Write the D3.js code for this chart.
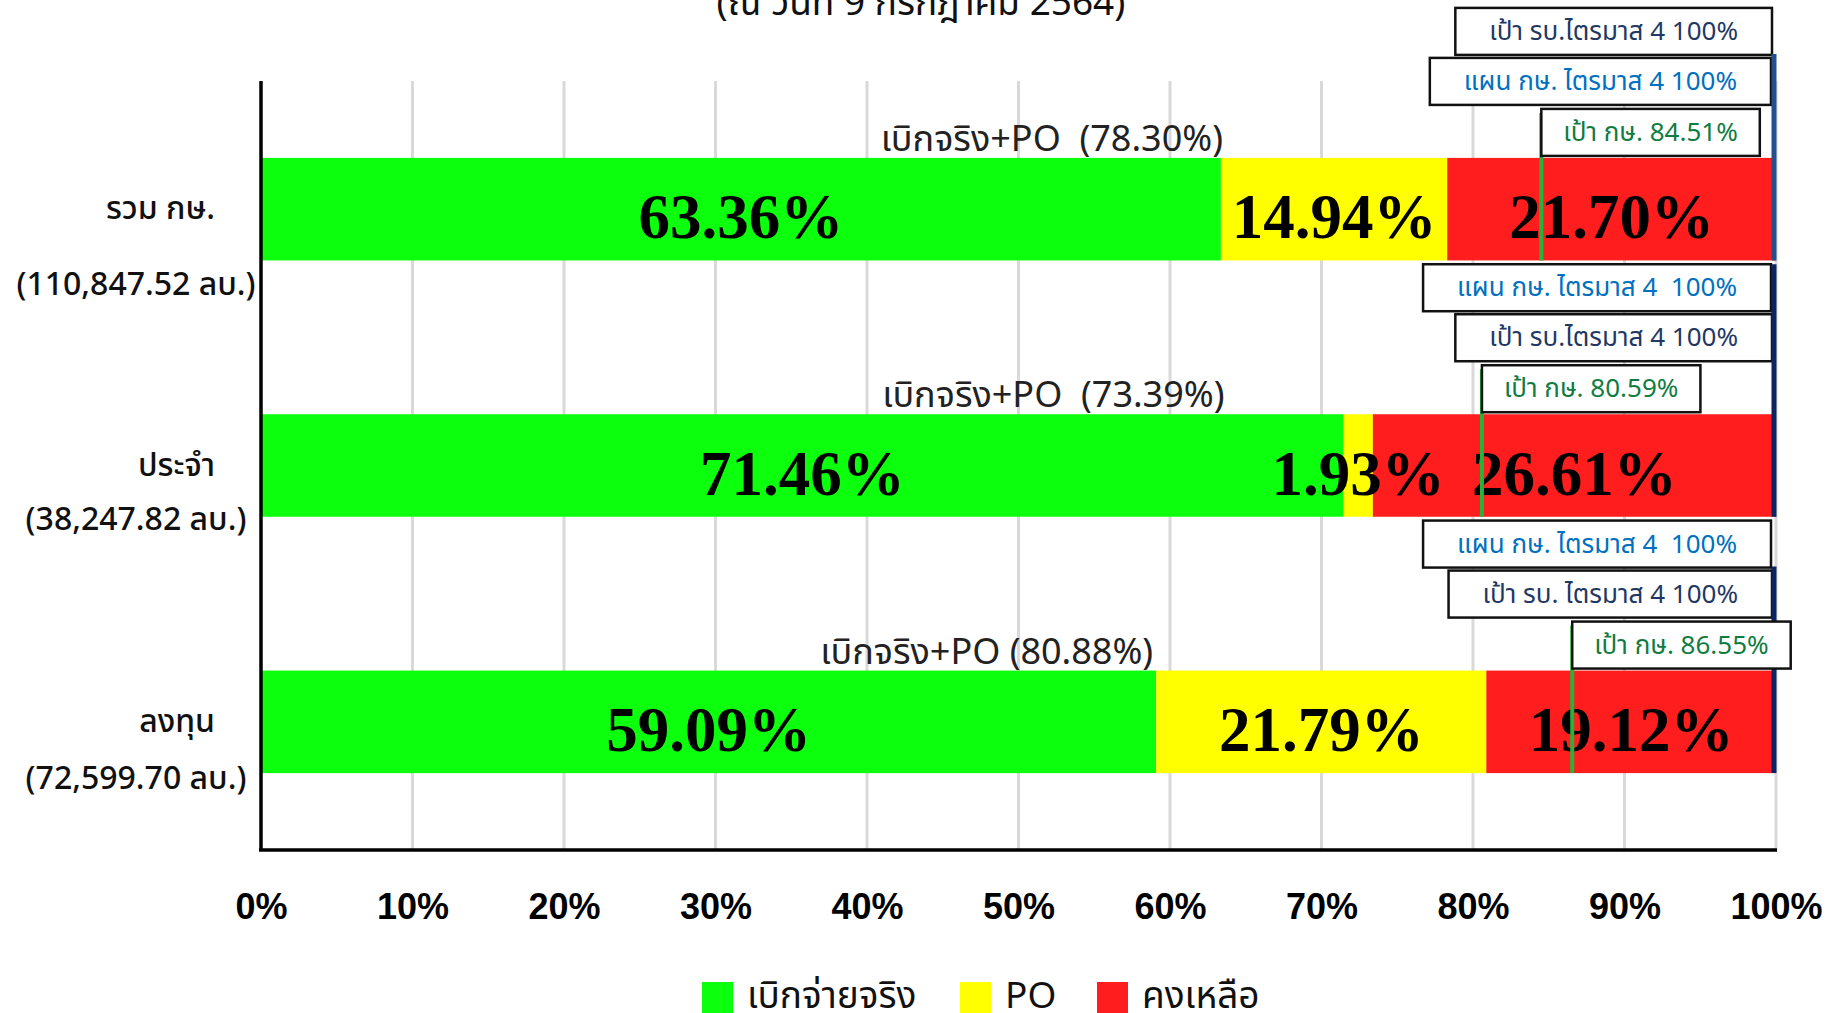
<!DOCTYPE html>
<html>
<head>
<meta charset="utf-8">
<script src="https://cdn.jsdelivr.net/npm/d3@7"></script>
<style>
  body { margin: 0; background: #fff; }
  svg { display: block; }
  text { white-space: pre; }
</style>
</head>
<body>
<div id="chart"></div>
<script>
// data
var categories = ["รวม กษ.", "ประจำ", "ลงทุน"];
var budgets = ["(110,847.52 ลบ.)", "(38,247.82 ลบ.)", "(72,599.70 ลบ.)"];
var paid = [63.36, 71.46, 59.09];
var po = [14.94, 1.93, 21.79];
var remain = [21.70, 26.61, 19.12];
var targets = [84.51, 80.59, 86.55];
var planLabels = ["แผน กษ. ไตรมาส 4 100%", "แผน กษ. ไตรมาส 4  100%", "แผน กษ. ไตรมาส 4  100%"];
var rbLabels = ["เป้า รบ.ไตรมาส 4 100%", "เป้า รบ.ไตรมาส 4 100%", "เป้า รบ. ไตรมาส 4 100%"];
var ticks = [0, 10, 20, 30, 40, 50, 60, 70, 80, 90, 100];
var legendNames = ["เบิกจ่ายจริง", "PO", "คงเหลือ"];
var title = "(ณ วันที่ 9 กรกฎาคม 2564)";

// layout
var W = 1843, H = 1013;
var colors = ["#0CFF0C", "#FFFF00", "#FF1D1D"];
var thai = "'Noto Sans Thai', 'Noto Sans', Tahoma, sans-serif";
var totalLabelAt = [52.2, 52.3, 47.9];
var budgetDy = [86, 64, 67];

var svg = d3.select("#chart").append("svg")
  .attr("width", W)
  .attr("height", H);

var x = d3.scaleLinear().domain([0, 100]).range([261, 1776]);
var y = d3.scaleBand().domain(categories).range([81, 850])
  .paddingInner(0.6).paddingOuter(0.3);

// title (cut at the top like the original)
svg.append("text")
  .attr("x", 921).attr("y", 15)
  .attr("text-anchor", "middle")
  .style("font-family", thai).style("font-size", "37px").attr("fill", "#111")
  .text(title);

// grid
svg.append("g").selectAll("line").data(ticks.slice(1)).enter().append("line")
  .attr("x1", function (d) { return x(d); })
  .attr("x2", function (d) { return x(d); })
  .attr("y1", 81).attr("y2", 850)
  .attr("stroke", "#D9D9D9").attr("stroke-width", 3);

// stacked bars
var rows = categories.map(function (c, i) {
  return { cat: c, vals: [paid[i], po[i], remain[i]], i: i };
});

rows.forEach(function (r) {
  var start = 0;
  r.vals.forEach(function (v, k) {
    var x0 = x(start), x1 = x(start + v);
    svg.append("rect")
      .attr("x", x0).attr("y", y(r.cat))
      .attr("width", x1 - x0).attr("height", y.bandwidth())
      .attr("fill", colors[k]);
    start += v;
  });
});

// segment value labels
rows.forEach(function (r) {
  var start = 0;
  r.vals.forEach(function (v) {
    svg.append("text")
      .attr("x", x(start + v / 2))
      .attr("y", y(r.cat) + y.bandwidth() / 2 + 29)
      .attr("text-anchor", "middle")
      .style("font-family", "'Liberation Serif', 'Times New Roman', serif")
      .style("font-weight", "bold").style("font-size", "63px")
      .attr("fill", "#000")
      .text(v.toFixed(2) + "%");
    start += v;
  });
});

// "เบิกจริง+PO" labels above bars
rows.forEach(function (r, i) {
  var total = paid[i] + po[i];
  svg.append("text")
    .attr("x", x(totalLabelAt[i]))
    .attr("y", y(r.cat) - 7)
    .attr("text-anchor", "middle")
    .style("font-family", thai).style("font-size", "36px")
    .attr("fill", "#222")
    .text("เบิกจริง+PO" + (i < 2 ? "  " : " ") + "(" + total.toFixed(2) + "%)");
});

// callout boxes: 100% lines, target lines
function box(text, color, top, pad, right, left) {
  var g = svg.append("g");
  var rect = g.append("rect").attr("y", top).attr("height", 47)
    .attr("fill", "#fff").attr("stroke", "#111").attr("stroke-width", 2.5);
  var t = g.append("text")
    .attr("y", top + 32)
    .attr("text-anchor", "middle")
    .style("font-family", thai).style("font-size", "26px")
    .attr("fill", color).text(text);
  var w = t.node().getComputedTextLength() + pad;
  var bx = left != null ? left : right - w;
  rect.attr("x", bx).attr("width", w);
  t.attr("x", bx + w / 2);
}

rows.forEach(function (r, i) {
  var top = y(r.cat);
  var bottom = top + y.bandwidth();
  var slots = [top - 150, top - 100, top - 49];
  var order = i === 0 ? ["rb", "plan"] : ["plan", "rb"];

  // target line
  svg.append("line")
    .attr("x1", x(targets[i])).attr("x2", x(targets[i]))
    .attr("y1", slots[2] + 4).attr("y2", bottom)
    .attr("stroke", "#27B23A").attr("stroke-width", 4);

  order.forEach(function (k, j) {
    if (k === "rb") box(rbLabels[i], "#1F3864", slots[j], 68, x(100) - 4);
    else box(planLabels[i], "#0070C0", slots[j], 68, x(100) - 5);
  });

  // 100% line
  svg.append("line")
    .attr("x1", x(100) - 2).attr("x2", x(100) - 2)
    .attr("y1", i === 1 ? slots[0] : slots[1] - 4).attr("y2", bottom)
    .attr("stroke", i === 0 ? "#24508F" : "#0C2463").attr("stroke-width", 5);

  box("เป้า กษ. " + targets[i].toFixed(2) + "%", "#107C41", slots[2], 44, null, x(targets[i]));
});

// axes lines
svg.append("line").attr("x1", 261).attr("x2", 261).attr("y1", 81).attr("y2", 851)
  .attr("stroke", "#000").attr("stroke-width", 3.5);
svg.append("line").attr("x1", 259).attr("x2", 1777).attr("y1", 850).attr("y2", 850)
  .attr("stroke", "#000").attr("stroke-width", 3.5);

// x tick labels
var xAxis = d3.axisBottom(x).tickValues(ticks)
  .tickFormat(function (d) { return d + "%"; }).tickSize(0).tickPadding(0);
var ax = svg.append("g").attr("transform", "translate(0,893)").call(xAxis);
ax.select(".domain").remove();
ax.selectAll("text")
  .style("font-family", "'Liberation Sans', Arial, sans-serif")
  .style("font-weight", "bold").style("font-size", "36px")
  .attr("fill", "#000").attr("dy", "0.72em");

// category labels
rows.forEach(function (r, i) {
  var cy = y(r.cat) + y.bandwidth() / 2;
  svg.append("text")
    .attr("x", 215).attr("y", cy + 10)
    .attr("text-anchor", "end")
    .style("font-family", thai).style("font-size", "32px").style("font-weight", "500")
    .attr("fill", "#111").text(r.cat);
  svg.append("text")
    .attr("x", 136).attr("y", cy + budgetDy[i])
    .attr("text-anchor", "middle")
    .style("font-family", thai).style("font-size", "32px").style("font-weight", "500")
    .attr("fill", "#111").text(budgets[i]);
});

// legend
var legendX = [702, 960, 1097];
legendNames.forEach(function (n, k) {
  svg.append("rect").attr("x", legendX[k]).attr("y", 982)
    .attr("width", 31).attr("height", 31).attr("fill", colors[k]);
  svg.append("text").attr("x", legendX[k] + 45).attr("y", 1008)
    .style("font-family", thai).style("font-size", "37px")
    .attr("fill", "#111").text(n);
});
</script>
</body>
</html>
